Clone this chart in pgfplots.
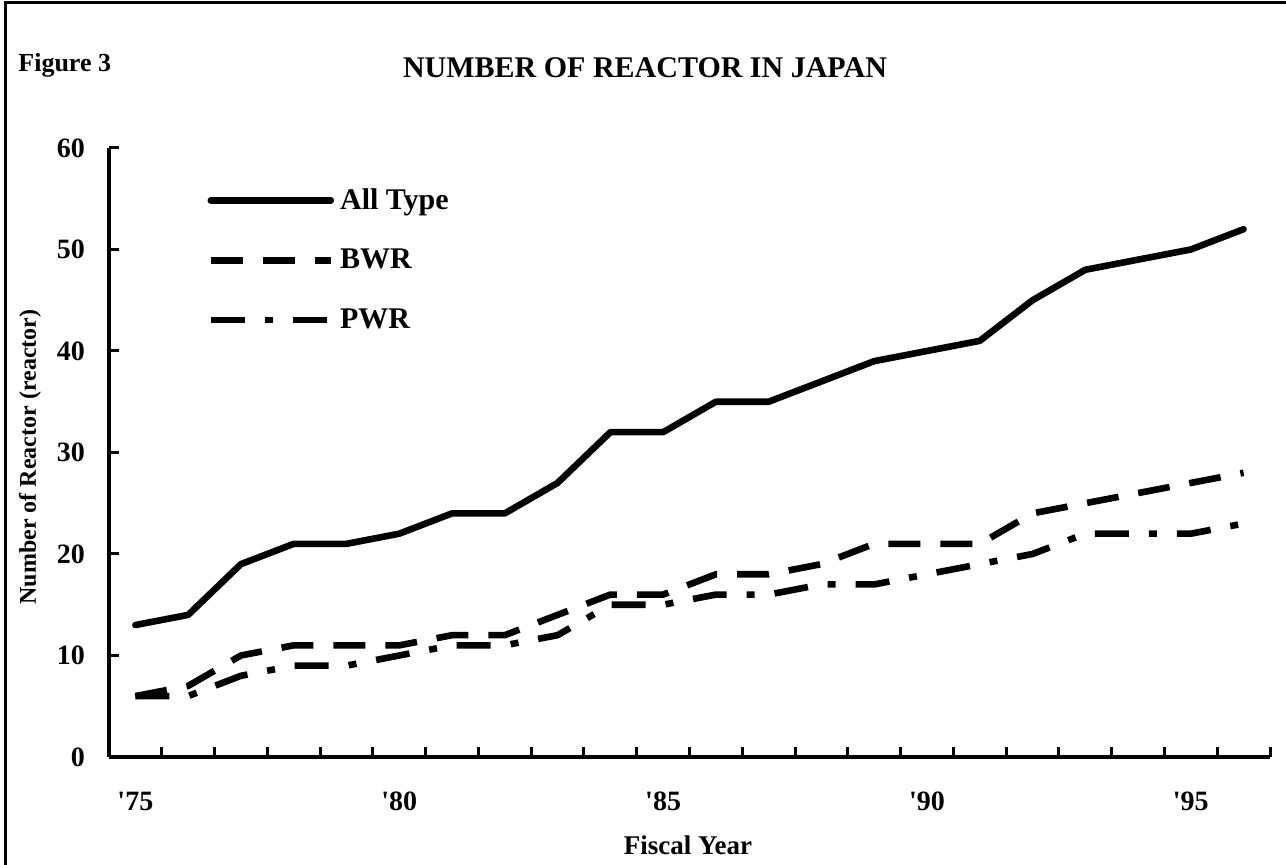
\documentclass[border=0pt]{standalone}
\usepackage{fontspec}
\setmainfont{Liberation Serif}
\usepackage{pgfplots}
\pgfplotsset{compat=1.18}
\begin{document}
\begin{tikzpicture}[x=1pt,y=1pt]
\useasboundingbox (0,0) rectangle (643,432.5);
\draw[line width=1.5pt] (2.5,0) -- (2.5,431) -- (643,431);
\node[anchor=west, inner sep=0pt, font=\fontsize{13}{15}\selectfont\bfseries] at (9,400) {Figure 3};
\node[font=\fontsize{15}{18}\selectfont\bfseries] at (322.5,398.5) {NUMBER OF REACTOR IN JAPAN};
\node[rotate=90, font=\fontsize{12}{14}\selectfont\bfseries] at (15,204) {Number of Reactor (reactor)};
\node[font=\fontsize{13.5}{16}\selectfont\bfseries] at (344,10) {Fiscal Year};
\begin{axis}[
  at={(54.5pt,54pt)}, anchor=south west,
  scale only axis, width=580.5pt, height=304.5pt,
  xmin=-0.5, xmax=21.5, ymin=0, ymax=60,
  axis x line=bottom, axis y line=left,
  axis line style={-, line width=1.8pt},
  tick align=inside,
  xtick={0,5,10,15,20},
  xticklabels={\textquotesingle75,\textquotesingle80,\textquotesingle85,\textquotesingle90,\textquotesingle95},
  major x tick style={draw=none},
  minor xtick={0.5,1.5,...,21.5},
  ytick={0,10,20,30,40,50,60},
  major tick length=5pt, minor tick length=5pt,
  tick style={line width=1.5pt, black},
  ticklabel style={font=\fontsize{14}{16}\selectfont\bfseries},
  /pgf/number format/assume math mode=true,
  yticklabel style={xshift=-8.5pt},
  xticklabel style={yshift=-14pt},
  clip=false,
  legend style={at={(0.0845,1)}, anchor=north west, yshift=-19pt, draw=none, fill=none,
    font=\fontsize{15}{17}\selectfont\bfseries, row sep=16.5pt, inner sep=0pt,
    nodes={inner sep=1pt}},
  legend cell align=left,
  legend image code/.code={\draw[#1] (0pt,0pt) -- (60pt,0pt); \path (62pt,0pt);},
]
\addplot[black, line width=3.3pt, line join=round, line cap=round] coordinates {
(0,13) (1,14) (2,19) (3,21) (4,21) (5,22) (6,24) (7,24) (8,27) (9,32) (10,32)
(11,35) (12,35) (13,37) (14,39) (15,40) (16,41) (17,45) (18,48) (19,49) (20,50) (21,52)};
\addlegendentry{All Type}
\addplot[black, line width=3.3pt, line join=round, line cap=butt, dash pattern=on 16pt off 10pt] coordinates {
(0,6) (1,7) (2,10) (3,11) (4,11) (5,11) (6,12) (7,12) (8,14) (9,16) (10,16)
(11,18) (12,18) (13,19) (14,21) (15,21) (16,21) (17,24) (18,25) (19,26) (20,27) (21,28)};
\addlegendentry{BWR}
\addplot[black, line width=3.3pt, line join=round, line cap=butt, dash pattern=on 17pt off 10pt on 4pt off 10pt] coordinates {
(0,6) (1,6) (2,8) (3,9) (4,9) (5,10) (6,11) (7,11) (8,12) (9,15) (10,15)
(11,16) (12,16) (13,17) (14,17) (15,18) (16,19) (17,20) (18,22) (19,22) (20,22) (21,23)};
\addlegendentry{PWR}
\end{axis}
\end{tikzpicture}
\end{document}
